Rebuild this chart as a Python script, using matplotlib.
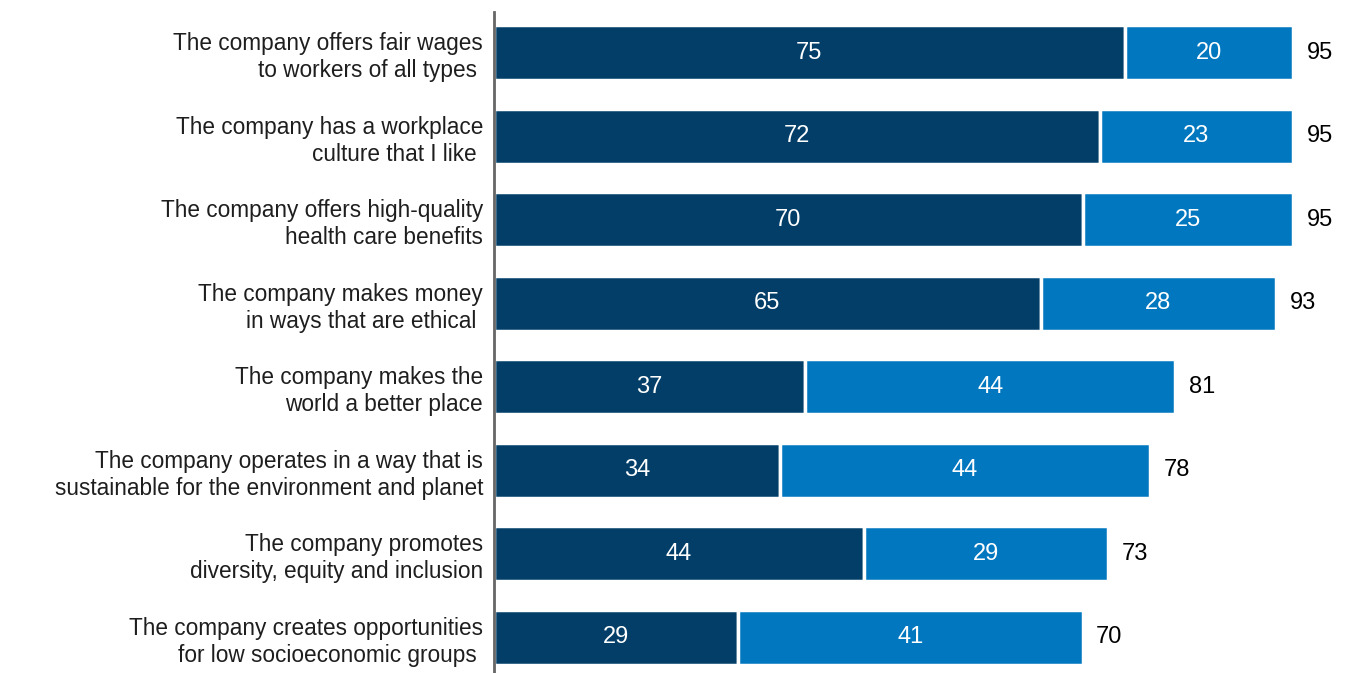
import matplotlib.pyplot as plt
import numpy as np

plt.rcParams['font.family'] = ['Liberation Sans', 'DejaVu Sans']

# Statements and shares (%)
labels = [
    'The company offers fair wages\nto workers of all types ',
    'The company has a workplace\nculture that I like ',
    'The company offers high-quality\nhealth care benefits',
    'The company makes money\nin ways that are ethical ',
    'The company makes the\nworld a better place',
    'The company operates in a way that is\nsustainable for the environment and planet',
    'The company promotes\ndiversity, equity and inclusion',
    'The company creates opportunities\nfor low socioeconomic groups ',
]
very_important = [75, 72, 70, 65, 37, 34, 44, 29]
somewhat_important = [20, 23, 25, 28, 44, 44, 29, 41]
totals = [95, 95, 95, 93, 81, 78, 73, 70]

dark = '#023e68'
light = '#0077bf'

fig = plt.figure(figsize=(13.49, 6.73), dpi=100)
ax = fig.add_axes([494 / 1349, 0, 1 - 494 / 1349 - 14 / 1349, 1 - 12 / 673])

y = np.arange(len(labels))
h = 0.66
ax.barh(y, very_important, height=h, color=dark, edgecolor='white', linewidth=2.5)
ax.barh(y, somewhat_important, left=very_important, height=h, color=light,
        edgecolor='white', linewidth=2.5)

for i in range(len(labels)):
    ax.text(very_important[i] / 2, i, str(very_important[i]), ha='center', va='center',
            color='white', fontsize=17)
    ax.text(very_important[i] + somewhat_important[i] / 2, i, str(somewhat_important[i]),
            ha='center', va='center', color='white', fontsize=17)
    ax.text(totals[i] + 1.6, i, str(totals[i]), ha='left', va='center',
            color='black', fontsize=17)

ax.set_xlim(0, 100)
ax.set_ylim(7.43, -0.49)
ax.set_yticks(y)
ax.set_yticklabels(labels, fontsize=16.3, color='#1e1e1e', ha='right', linespacing=1.22)
ax.tick_params(axis='y', length=0, pad=8)
ax.set_xticks([])
for s in ['top', 'right', 'bottom']:
    ax.spines[s].set_visible(False)
ax.spines['left'].set_color('#666666')
ax.spines['left'].set_linewidth(2)

fig.savefig('out.png', dpi=100)
